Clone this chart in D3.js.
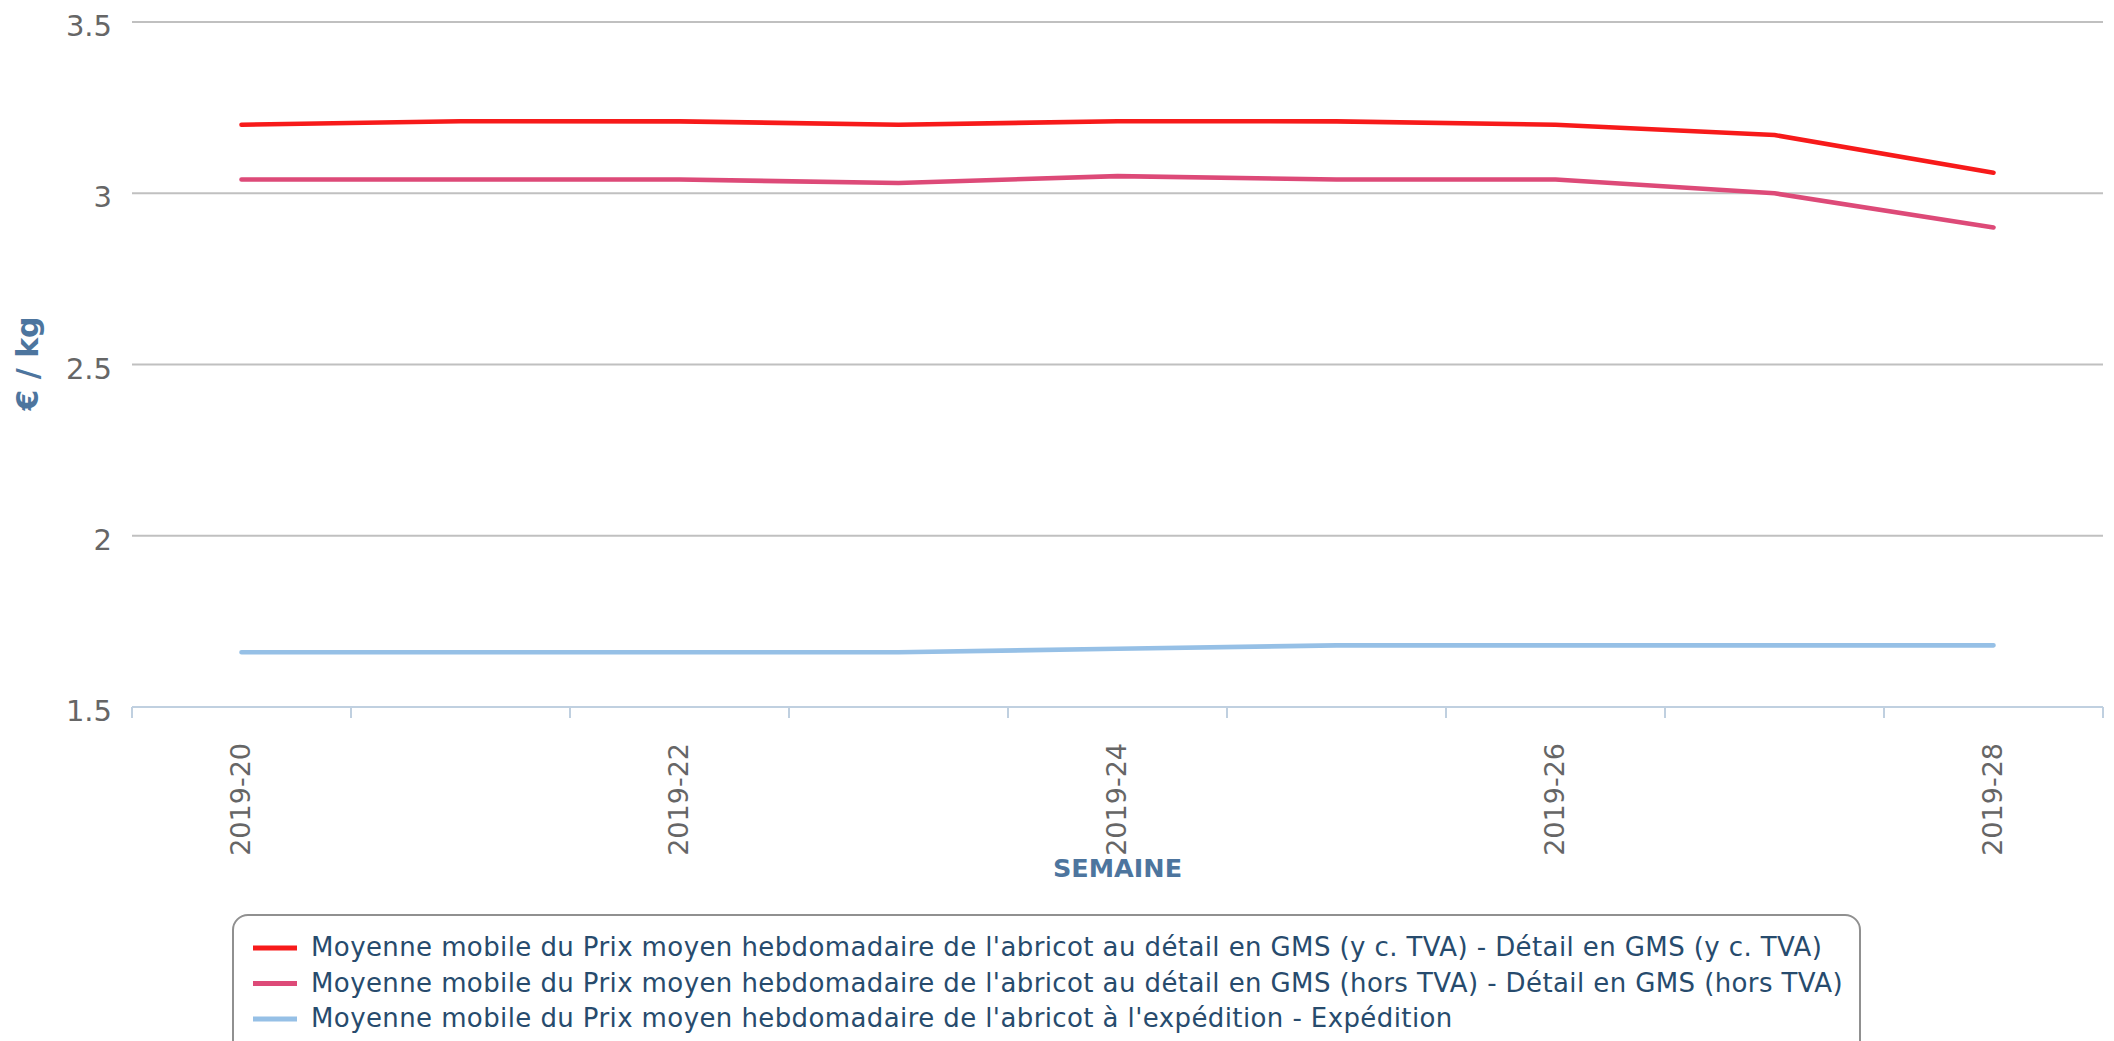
<!DOCTYPE html>
<html>
<head>
<meta charset="utf-8">
<script src="https://cdn.jsdelivr.net/npm/d3@7"></script>
<style>
  html, body { margin: 0; padding: 0; background: #fff; }
  svg { display: block; }
  text { font-family: "DejaVu Sans", sans-serif; }
</style>
</head>
<body>
<svg id="chart" width="2114" height="1041"></svg>
<script>
// ---- data ----
const weeks = ["2019-20","2019-21","2019-22","2019-23","2019-24","2019-25","2019-26","2019-27","2019-28"];
const tickLabels = ["2019-20","2019-22","2019-24","2019-26","2019-28"];
const yTicks = [1.5, 2, 2.5, 3, 3.5];
const seriesNames = [
  "Moyenne mobile du Prix moyen hebdomadaire de l'abricot au détail en GMS (y c. TVA) - Détail en GMS (y c. TVA)",
  "Moyenne mobile du Prix moyen hebdomadaire de l'abricot au détail en GMS (hors TVA) - Détail en GMS (hors TVA)",
  "Moyenne mobile du Prix moyen hebdomadaire de l'abricot à l'expédition - Expédition"
];
const detailTTC = [3.20, 3.21, 3.21, 3.20, 3.21, 3.21, 3.20, 3.17, 3.06];
const detailHT  = [3.04, 3.04, 3.04, 3.03, 3.05, 3.04, 3.04, 3.00, 2.90];
const expedition = [1.66, 1.66, 1.66, 1.66, 1.67, 1.68, 1.68, 1.68, 1.68];
const colors = ["#f71a1a", "#dd4a78", "#96c0e6"];

// ---- layout ----
const svg = d3.select("#chart");
const plotL = 132, plotR = 2103, plotT = 22, plotB = 707;

const x = d3.scaleBand().domain(weeks).range([plotL, plotR]).padding(0);
const y = d3.scaleLinear().domain([1.5, 3.5]).range([plotB, plotT]);

// gridlines
svg.append("g").selectAll("line").data(yTicks.filter(d => d !== 1.5)).join("line")
  .attr("x1", plotL).attr("x2", plotR)
  .attr("y1", d => y(d)).attr("y2", d => y(d))
  .attr("stroke", "#c0c0c0").attr("stroke-width", 2);

// y labels
svg.append("g").selectAll("text").data(yTicks).join("text")
  .attr("x", 112).attr("y", d => y(d) + 14)
  .attr("text-anchor", "end")
  .attr("font-size", 29).attr("fill", "#666")
  .text(d => d);

// x axis line and ticks
svg.append("line").attr("x1", plotL).attr("x2", plotR).attr("y1", plotB).attr("y2", plotB)
  .attr("stroke", "#c0d0e0").attr("stroke-width", 2);
const bounds = weeks.map(w => x(w)).concat([plotR]);
svg.append("g").selectAll("line").data(bounds).join("line")
  .attr("x1", d => d).attr("x2", d => d)
  .attr("y1", plotB).attr("y2", plotB + 11)
  .attr("stroke", "#c0d0e0").attr("stroke-width", 2);

// x labels
svg.append("g").selectAll("text").data(tickLabels).join("text")
  .attr("transform", d => `translate(${x(d) + x.bandwidth() / 2 + 8},743) rotate(-90)`)
  .attr("text-anchor", "end")
  .attr("font-size", 27).attr("fill", "#666")
  .text(d => d);

// axis titles
svg.append("text")
  .attr("x", (plotL + plotR) / 2).attr("y", 877)
  .attr("text-anchor", "middle").attr("font-size", 25.5).attr("font-weight", "bold")
  .attr("fill", "#4d759e").text("SEMAINE");
svg.append("text")
  .attr("transform", `translate(38,${(plotT + plotB) / 2 - 1}) rotate(-90)`)
  .attr("text-anchor", "middle").attr("font-size", 30).attr("font-weight", "bold")
  .attr("fill", "#4d759e").text("€ / kg");

// lines
const line = d3.line().x((d, i) => x(weeks[i]) + x.bandwidth() / 2).y(d => y(d));
[detailTTC, detailHT, expedition].forEach((s, i) => {
  svg.append("path").datum(s).attr("d", line)
    .attr("fill", "none").attr("stroke", colors[i]).attr("stroke-width", 4.6)
    .attr("stroke-linecap", "round").attr("stroke-linejoin", "round");
});

// legend
const lg = svg.append("g");
lg.append("rect").attr("x", 233).attr("y", 915).attr("width", 1627).attr("height", 140)
  .attr("rx", 15).attr("fill", "#fff").attr("stroke", "#909090").attr("stroke-width", 2);
seriesNames.forEach((n, i) => {
  const yy = 948 + i * 35.5;
  lg.append("line").attr("x1", 253).attr("x2", 297).attr("y1", yy).attr("y2", yy)
    .attr("stroke", colors[i]).attr("stroke-width", 5);
  lg.append("text").attr("x", 311).attr("y", yy + 8)
    .attr("font-size", 26).attr("letter-spacing", 0.4).attr("fill", "#274b6d").text(n);
});
</script>
</body>
</html>
